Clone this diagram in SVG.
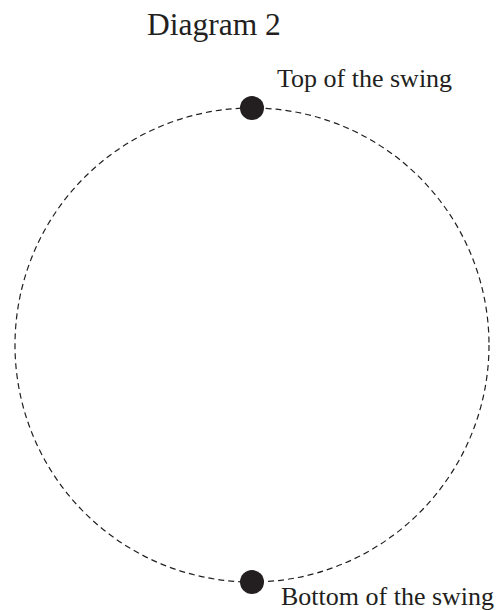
<svg xmlns="http://www.w3.org/2000/svg" width="503" height="610" viewBox="0 0 503 610">
<style>
text{font-family:"Liberation Serif","Times New Roman",serif;fill:#231f20}
.lbl{font-size:26px}
.dot{fill:#231f20}
.path{fill:none;stroke:#231f20;stroke-width:1.2;stroke-dasharray:6 4}
</style>
<rect width="503" height="610" fill="#fff"/>
<text x="147" y="35" style="font-size:31.5px">Diagram 2</text>
<g id="connectors">
<circle class="path" cx="252" cy="345" r="237"/>
</g>
<g id="top">
<circle class="dot" cx="252" cy="108" r="12"/>
<text class="lbl" x="277" y="87">Top of the swing</text>
</g>
<g id="bottom">
<circle class="dot" cx="252" cy="582" r="12"/>
<text class="lbl" x="281" y="605">Bottom of the swing</text>
</g>
</svg>
